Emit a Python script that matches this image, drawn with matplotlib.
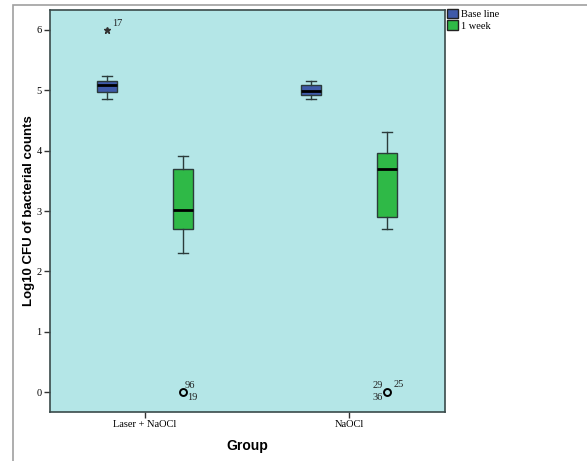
import matplotlib.pyplot as plt
from matplotlib.patches import Patch, Rectangle

groups = ["Laser + NaOCl", "NaOCl"]
series = ["Base line", "1 week"]
colors = ["#3f5aa9", "#2fb947"]

# box stats per group: [base line, 1 week]
whislo = [[4.85, 2.31], [4.85, 2.70]]
q1 = [[4.97, 2.70], [4.93, 2.90]]
med = [[5.08, 3.01], [4.99, 3.70]]
q3 = [[5.16, 3.70], [5.09, 3.96]]
whishi = [[5.24, 3.91], [5.16, 4.31]]

# outliers: (group, series, value, marker, labels)
outliers = [
    (0, 0, 6.0, "*", ["17"]),
    (0, 1, 0.0, "o", ["96", "19"]),
    (1, 1, 0.0, "o", ["29", "25", "36"]),
]

offset = 0.186
width = 0.098

fig = plt.figure(figsize=(5.87, 4.61), dpi=100)
fig.patches.append(Rectangle((13 / 587, -0.05), 1.1, 1 - 5 / 461 + 0.05, transform=fig.transFigure,
                             fill=False, edgecolor="#a0a0a0", linewidth=1.2))
ax = fig.add_axes([50 / 587, 49 / 461, 395 / 587, 402 / 461])
ax.set_facecolor("#b4e6e7")

for g in range(len(groups)):
    for s in range(len(series)):
        st = dict(whislo=whislo[g][s], q1=q1[g][s], med=med[g][s], q3=q3[g][s],
                  whishi=whishi[g][s], fliers=[])
        pos = g + (2 * s - 1) * offset
        ax.bxp([st], positions=[pos], widths=width, patch_artist=True, showfliers=False,
               boxprops=dict(facecolor=colors[s], edgecolor="#2b3b3b", linewidth=1),
               medianprops=dict(color="black", linewidth=2),
               whiskerprops=dict(color="#2b3b3b", linewidth=1),
               capprops=dict(color="#2b3b3b", linewidth=1),
               capwidths=width * 0.5)

serif = "Liberation Serif"
for g, s, v, m, labels in outliers:
    pos = g + (2 * s - 1) * offset
    if m == "*":
        ax.plot(pos, v, marker="*", color="#333333", markersize=5, linestyle="none")
    else:
        ax.plot(pos, v, marker="o", mfc="none", mec="black", mew=1.4, markersize=5, linestyle="none")
    kw = dict(fontsize=7.5, family=serif, color="#222222")
    if len(labels) == 1:
        ax.text(pos + 0.025, v + 0.04, labels[0], ha="left", va="bottom", **kw)
    elif len(labels) == 2:
        ax.text(pos + 0.01, v + 0.03, labels[0], ha="left", va="bottom", **kw)
        ax.text(pos + 0.02, v - 0.02, labels[1], ha="left", va="top", **kw)
    else:
        ax.text(pos - 0.02, v + 0.04, labels[0], ha="right", va="bottom", **kw)
        ax.text(pos + 0.03, v + 0.05, labels[1], ha="left", va="bottom", **kw)
        ax.text(pos - 0.02, v - 0.02, labels[2], ha="right", va="top", **kw)

ax.set_xlim(-0.466, 1.47)
ax.set_ylim(-0.33, 6.33)
ax.set_xticks(range(len(groups)))
ax.set_xticklabels(groups, family=serif, fontsize=7.5)
ax.set_yticks(range(7))
ax.set_yticklabels([str(i) for i in range(7)], family=serif, fontsize=7.5)
ax.tick_params(direction="out", length=4, width=1, color="#333333", pad=2)
for sp in ax.spines.values():
    sp.set_color("#3a4a4a")
    sp.set_linewidth(1.2)

ax.set_xlabel("Group", family="Liberation Sans", fontweight="bold", fontsize=10, labelpad=7)
ax.set_ylabel("Log10 CFU of bacterial counts", family="Liberation Sans", fontweight="bold",
              fontsize=9.5, labelpad=1)

handles = [Patch(facecolor=c, edgecolor="#222222", label=l) for c, l in zip(colors, series)]
fig.legend(handles=handles, loc="upper left", bbox_to_anchor=(445 / 587, 1 - 7 / 461),
           frameon=False, prop=dict(family=serif, size=7.5), handlelength=1, handleheight=1,
           handletextpad=0.3, labelspacing=0.1, borderpad=0.2, borderaxespad=0)

fig.savefig("out.png", dpi=100)
